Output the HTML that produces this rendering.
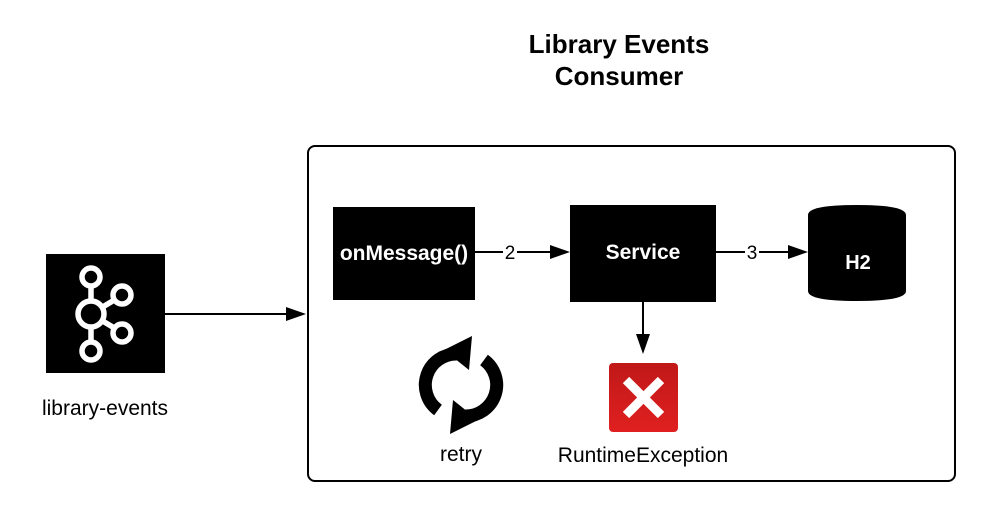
<!DOCTYPE html>
<html><head><meta charset="utf-8"><style>
html,body{margin:0;padding:0;background:#fff;}
svg{display:block;font-family:"Liberation Sans",sans-serif;}
</style></head><body>
<svg width="1001" height="523" viewBox="0 0 1001 523" xmlns="http://www.w3.org/2000/svg">
<defs>
<linearGradient id="rg" x1="0" y1="0" x2="0" y2="1"><stop offset="0" stop-color="#c01818"/><stop offset="1" stop-color="#e02020"/></linearGradient>
</defs>
<text x="619" y="53" text-anchor="middle" font-size="26" font-weight="bold">Library Events</text>
<text x="619" y="85" text-anchor="middle" font-size="26" font-weight="bold">Consumer</text>
<rect x="308" y="146" width="647" height="335" rx="7" fill="none" stroke="#000" stroke-width="2"/>
<!-- kafka -->
<rect x="46" y="254" width="119" height="119" fill="#000"/>
<g stroke="#fff" stroke-width="5.5" fill="none">
<line x1="91" y1="278" x2="91" y2="352"/>
<line x1="91" y1="314" x2="121" y2="296"/>
<line x1="91" y1="314" x2="121" y2="332"/>
<circle cx="91" cy="277" r="9" fill="#000"/>
<circle cx="91" cy="351" r="9" fill="#000"/>
<circle cx="122" cy="295" r="9" fill="#000"/>
<circle cx="122" cy="333" r="9" fill="#000"/>
<circle cx="91" cy="314" r="13" fill="#000"/>
</g>
<text x="105" y="415" text-anchor="middle" font-size="21">library-events</text>
<line x1="165" y1="314" x2="288" y2="314" stroke="#000" stroke-width="2"/>
<polygon points="306,314 286,307 286,321" fill="#000"/>
<!-- onMessage -->
<rect x="333" y="207" width="142" height="93" fill="#000"/>
<text x="404" y="260" text-anchor="middle" font-size="21" font-weight="bold" fill="#fff">onMessage()</text>
<line x1="475" y1="252" x2="552" y2="252" stroke="#000" stroke-width="2"/>
<rect x="503" y="242" width="14" height="20" fill="#fff"/>
<text x="510" y="259" text-anchor="middle" font-size="19">2</text>
<polygon points="570,252 550,245 550,259" fill="#000"/>
<!-- service -->
<rect x="570" y="205" width="146" height="97" fill="#000"/>
<text x="643" y="259" text-anchor="middle" font-size="21" font-weight="bold" fill="#fff">Service</text>
<line x1="716" y1="252" x2="790" y2="252" stroke="#000" stroke-width="2"/>
<rect x="745" y="242" width="14" height="20" fill="#fff"/>
<text x="752" y="259" text-anchor="middle" font-size="19">3</text>
<polygon points="808,252 788,245 788,259" fill="#000"/>
<!-- H2 -->
<path d="M808,215 Q808,205 857,205 Q906,205 906,215 L906,291 Q906,301 857,301 Q808,301 808,291 Z" fill="#000"/>
<text x="858" y="269" text-anchor="middle" font-size="20" font-weight="bold" fill="#fff">H2</text>
<!-- down arrow -->
<line x1="643" y1="302" x2="643" y2="336" stroke="#000" stroke-width="2"/>
<polygon points="643,354 636,334 650,334" fill="#000"/>
<!-- red x -->
<rect x="609" y="363" width="69" height="69" rx="4" fill="url(#rg)"/>
<g stroke="#fff" stroke-width="9"><line x1="626" y1="380" x2="661" y2="415"/><line x1="661" y1="380" x2="626" y2="415"/></g>
<text x="643" y="462" text-anchor="middle" font-size="21">RuntimeException</text>
<!-- retry -->
<g fill="none" stroke="#000" stroke-width="13">
<path d="M438,410 A31,31 0 0 1 457,354"/>
<path d="M484,360 A31,31 0 0 1 465,416"/>
</g>
<polygon points="444,350 472,336 469,370" fill="#000"/>
<polygon points="478,420 450,434 453,400" fill="#000"/>
<text x="461" y="461" text-anchor="middle" font-size="21">retry</text>
</svg>
</body></html>
